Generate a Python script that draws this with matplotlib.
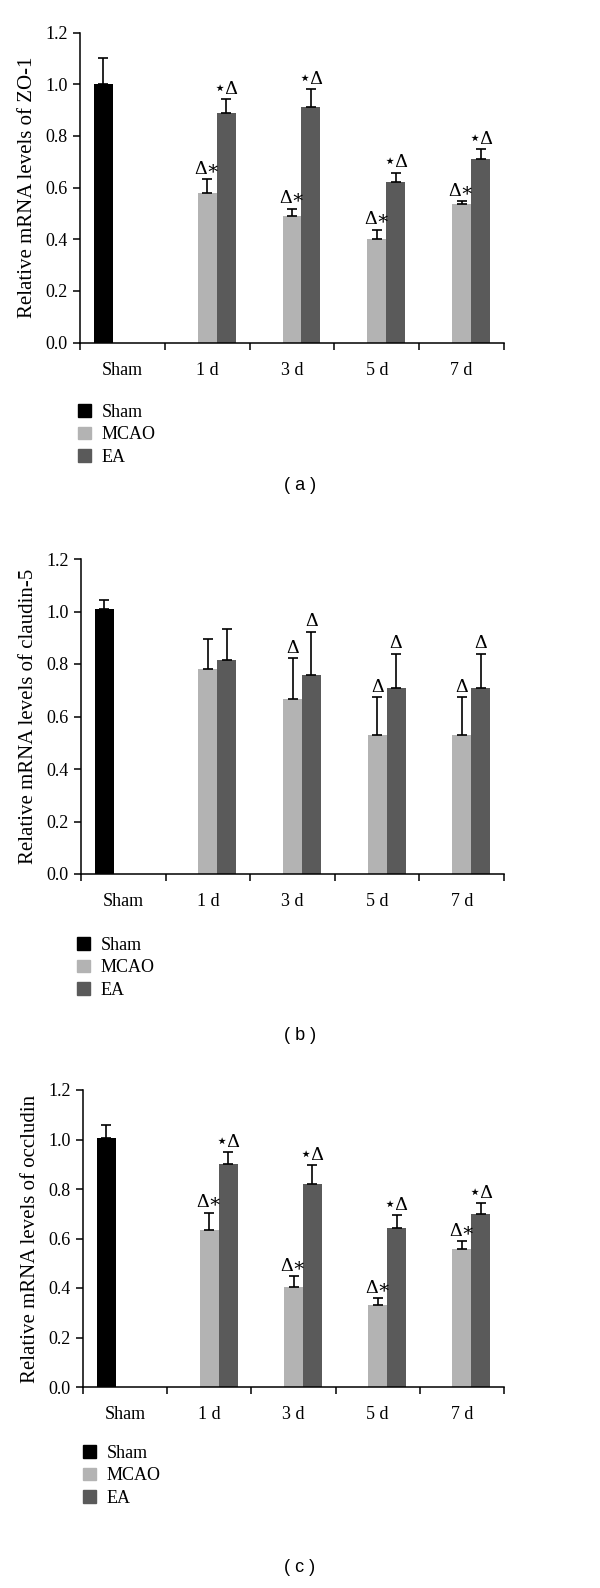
import numpy as np
import matplotlib
matplotlib.use("Agg")
import matplotlib.pyplot as plt
from matplotlib.patches import Patch

plt.rcParams["font.family"] = ["Liberation Serif", "DejaVu Serif", "DejaVu Sans"]

categories = ["Sham", "1 d", "3 d", "5 d", "7 d"]
series = ["Sham", "MCAO", "EA"]
colors = ["#000000", "#b3b3b3", "#5a5a5a"]

# (a) ZO-1
zo1_sham, zo1_sham_err = 1.00, 0.10
zo1_mcao = [0.577, 0.489, 0.401, 0.535]
zo1_mcao_err = [0.055, 0.029, 0.036, 0.012]
zo1_ea = [0.888, 0.910, 0.621, 0.711]
zo1_ea_err = [0.053, 0.070, 0.036, 0.037]
zo1_mcao_marks = ["Δ∗", "Δ∗", "Δ∗", "Δ∗"]
zo1_ea_marks = ["⋆Δ", "⋆Δ", "⋆Δ", "⋆Δ"]

# (b) claudin-5
cl5_sham, cl5_sham_err = 1.008, 0.034
cl5_mcao = [0.782, 0.666, 0.530, 0.530]
cl5_mcao_err = [0.113, 0.155, 0.144, 0.144]
cl5_ea = [0.815, 0.758, 0.709, 0.709]
cl5_ea_err = [0.118, 0.164, 0.129, 0.129]
cl5_mcao_marks = ["", "Δ", "Δ", "Δ"]
cl5_ea_marks = ["", "Δ", "Δ", "Δ"]

# (c) occludin
ocl_sham, ocl_sham_err = 1.008, 0.050
ocl_mcao = [0.635, 0.406, 0.332, 0.558]
ocl_mcao_err = [0.070, 0.042, 0.026, 0.030]
ocl_ea = [0.901, 0.822, 0.642, 0.700]
ocl_ea_err = [0.047, 0.075, 0.051, 0.043]
ocl_mcao_marks = ["Δ∗", "Δ∗", "Δ∗", "Δ∗"]
ocl_ea_marks = ["⋆Δ", "⋆Δ", "⋆Δ", "⋆Δ"]

W, H = 600, 1588
fig = plt.figure(figsize=(W / 100, H / 100), dpi=100)


def px_rect(x0, x1, ytop, ybot):
    return [x0 / W, 1 - ybot / H, (x1 - x0) / W, (ybot - ytop) / H]


def panel(rect, ylabel, sham, sham_err, mcao, mcao_err, ea, ea_err,
          mcao_marks, ea_marks, legend_xy, caption, caption_y):
    ax = fig.add_axes(rect)
    w = 0.224
    centers = np.arange(len(categories)) + 0.5
    days = centers[1:]
    ekw = dict(ecolor="black", elinewidth=1.2, capsize=3.5, capthick=1.2)

    ax.bar([centers[0] - w], [sham], w, color=colors[0], label=series[0],
           yerr=[[0], [sham_err]], error_kw=ekw)
    ax.bar(days, mcao, w, color=colors[1], label=series[1],
           yerr=[np.zeros(4), mcao_err], error_kw=ekw)
    ax.bar(days + w, ea, w, color=colors[2], label=series[2],
           yerr=[np.zeros(4), ea_err], error_kw=ekw)

    for x, v, e, m in zip(days, mcao, mcao_err, mcao_marks):
        if m:
            ax.text(x, v + e + 0.006, m, ha="center", va="bottom", fontsize=14)
    for x, v, e, m in zip(days + w, ea, ea_err, ea_marks):
        if m:
            ax.text(x, v + e + 0.006, m, ha="center", va="bottom", fontsize=14)

    ax.set_xlim(0, 5)
    ax.set_ylim(0, 1.2)
    ax.set_yticks(np.arange(0, 1.21, 0.2))
    ax.set_yticklabels([f"{t:.1f}" for t in np.arange(0, 1.21, 0.2)])
    ax.set_xticks(np.arange(0, 6))
    ax.set_xticklabels([])
    ax.set_xticks(centers, minor=True)
    ax.set_xticklabels(categories, minor=True)
    ax.tick_params(axis="x", which="major", direction="out", length=5, width=1.1)
    ax.tick_params(axis="x", which="minor", length=0, pad=14, labelsize=13)
    ax.tick_params(axis="y", direction="out", length=5, width=1.1, pad=4,
                   labelsize=13)
    for s in ["top", "right"]:
        ax.spines[s].set_visible(False)
    for s in ["left", "bottom"]:
        ax.spines[s].set_linewidth(1.1)

    ax.set_ylabel(ylabel, fontsize=15)
    ax.yaxis.set_label_coords(-43 / (rect[2] * W), 0.5)

    handles = [Patch(color=c, label=l) for c, l in zip(colors, series)]
    ax.legend(handles=handles, loc="upper left",
              bbox_to_anchor=(legend_xy[0] / W, 1 - legend_xy[1] / H),
              bbox_transform=fig.transFigure, frameon=False, fontsize=13,
              borderpad=0, borderaxespad=0, handlelength=0.7,
              handleheight=0.7, handletextpad=0.6, labelspacing=0.3)

    fig.text(300 / W, 1 - caption_y / H, caption, ha="center", va="center",
             family="Liberation Sans", fontsize=13)
    return ax


panel(px_rect(80, 504, 32.5, 342.5), "Relative mRNA levels of ZO-1",
      zo1_sham, zo1_sham_err, zo1_mcao, zo1_mcao_err, zo1_ea, zo1_ea_err,
      zo1_mcao_marks, zo1_ea_marks, (78, 404), "( a )", 485)

panel(px_rect(81, 504, 559, 874), "Relative mRNA levels of claudin-5",
      cl5_sham, cl5_sham_err, cl5_mcao, cl5_mcao_err, cl5_ea, cl5_ea_err,
      cl5_mcao_marks, cl5_ea_marks, (77, 937), "( b )", 1035)

panel(px_rect(83, 504, 1090, 1387), "Relative mRNA levels of occludin",
      ocl_sham, ocl_sham_err, ocl_mcao, ocl_mcao_err, ocl_ea, ocl_ea_err,
      ocl_mcao_marks, ocl_ea_marks, (83, 1445), "( c )", 1568)

fig.savefig("out.png", dpi=100)
